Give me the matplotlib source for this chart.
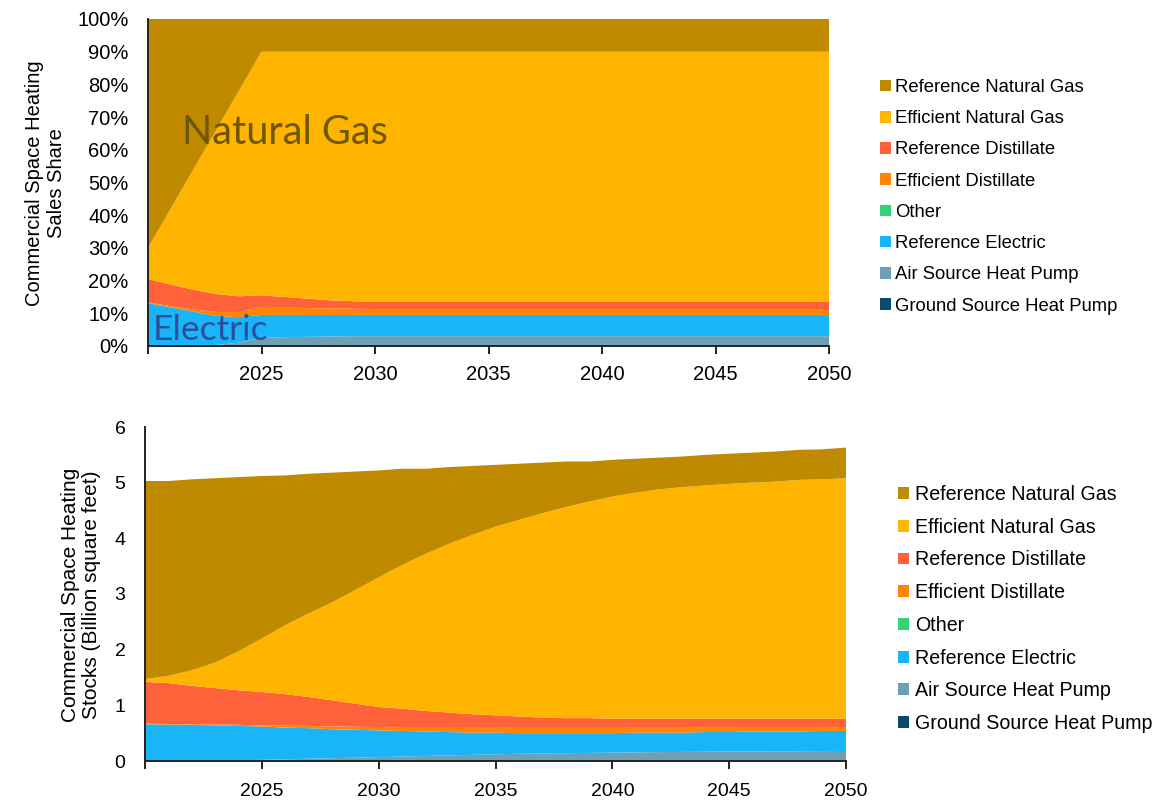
import matplotlib
matplotlib.use("Agg")
import matplotlib.pyplot as plt
from matplotlib.patches import Patch
from matplotlib.ticker import FixedLocator, PercentFormatter

plt.rcParams['font.family'] = ['Liberation Sans', 'DejaVu Sans']

# ---------------- data ----------------
series_names = ["Ground Source Heat Pump", "Air Source Heat Pump", "Reference Electric",
                "Other", "Efficient Distillate", "Reference Distillate",
                "Efficient Natural Gas", "Reference Natural Gas"]
colors = ["#0B4A6A", "#6E9FB4", "#1AB4F8", "#2ED475", "#FF8403", "#FF613B",
          "#FFB500", "#BF8A00"]

# Top chart: sales share (%), 2020-2030, flat afterwards to 2050
share_years = [2020, 2021, 2022, 2023, 2024, 2025, 2026, 2027, 2028, 2029, 2030,
               2035, 2040, 2045, 2050]
share_gshp = [0, 0, 0, 0, 0, 0, 0, 0, 0, 0, 0, 0, 0, 0, 0]
share_ashp = [0, 0, 0, 0.3, 1.0, 2.5, 2.7, 2.8, 2.9, 3.0, 3.0, 3.0, 3.0, 3.0, 3.0]
share_ref_elec = [13.1, 11.8, 10.5, 8.9, 7.8, 7.0, 6.8, 6.7, 6.6, 6.5, 6.5, 6.5, 6.5, 6.5, 6.5]
share_other = [0, 0, 0, 0, 0, 0, 0, 0, 0, 0, 0, 0, 0, 0, 0]
share_eff_dist = [0.2, 0.4, 0.7, 1.2, 1.6, 2.5, 2.3, 2.1, 2.0, 1.9, 1.8, 1.8, 1.8, 1.8, 1.8]
share_ref_dist = [7.2, 6.6, 6.0, 5.5, 4.8, 3.5, 3.2, 2.9, 2.5, 2.3, 2.2, 2.2, 2.2, 2.2, 2.2]
share_eff_ng = [9.5, 23.2, 36.8, 50.1, 62.8, 74.5, 75.0, 75.5, 76.0, 76.3, 76.5, 76.5, 76.5, 76.5, 76.5]
share_ref_ng = [70, 58, 46, 34, 22, 10, 10, 10, 10, 10, 10, 10, 10, 10, 10]

# Bottom chart: stocks (billion sq ft), 2020-2050
stock_years = list(range(2020, 2051))
stock_gshp = [0] * 31
stock_ashp = [0, 0, 0.005, 0.01, 0.015, 0.02, 0.03, 0.04, 0.05, 0.06, 0.07, 0.08, 0.09, 0.10,
              0.11, 0.12, 0.13, 0.135, 0.14, 0.145, 0.15, 0.155, 0.16, 0.163, 0.166, 0.17,
              0.172, 0.174, 0.176, 0.178, 0.18]
stock_ref_elec = [0.66, 0.655, 0.645, 0.63, 0.615, 0.60, 0.57, 0.55, 0.52, 0.50, 0.48, 0.46,
                  0.44, 0.42, 0.40, 0.39, 0.37, 0.365, 0.36, 0.355, 0.35, 0.355, 0.35, 0.347,
                  0.354, 0.35, 0.358, 0.356, 0.354, 0.362, 0.36]
stock_other = [0] * 31
stock_eff_dist = [0.01, 0.01, 0.01, 0.015, 0.02, 0.02, 0.035, 0.04, 0.05, 0.055, 0.06, 0.07,
                  0.08, 0.09, 0.10, 0.10, 0.11, 0.11, 0.11, 0.11, 0.11, 0.10, 0.10, 0.10, 0.09,
                  0.09, 0.08, 0.08, 0.08, 0.07, 0.07]
stock_ref_dist = [0.75, 0.735, 0.69, 0.655, 0.62, 0.60, 0.565, 0.52, 0.47, 0.415, 0.36, 0.33,
                  0.29, 0.26, 0.23, 0.21, 0.19, 0.17, 0.16, 0.16, 0.15, 0.15, 0.15, 0.15, 0.15,
                  0.15, 0.15, 0.15, 0.15, 0.15, 0.15]
stock_eff_ng = [0.05, 0.13, 0.28, 0.46, 0.70, 0.96, 1.24, 1.50, 1.76, 2.04, 2.33, 2.58, 2.82,
                3.03, 3.22, 3.39, 3.53, 3.67, 3.79, 3.89, 3.99, 4.06, 4.12, 4.16, 4.19, 4.22,
                4.24, 4.26, 4.29, 4.30, 4.32]
stock_ref_ng = [3.56, 3.50, 3.43, 3.31, 3.13, 2.92, 2.69, 2.51, 2.33, 2.13, 1.92, 1.73, 1.53,
                1.38, 1.24, 1.11, 1.01, 0.91, 0.82, 0.72, 0.66, 0.61, 0.57, 0.55, 0.55, 0.54,
                0.54, 0.54, 0.54, 0.54, 0.55]

tick_years = [2020, 2025, 2030, 2035, 2040, 2045, 2050]
tick_labels = ["", "2025", "2030", "2035", "2040", "2045", "2050"]

# ---------------- figure ----------------
fig = plt.figure(figsize=(11.7, 8.01), dpi=100)
W, H = 1170, 801

def axes_px(l, r, t, b):
    return fig.add_axes([l / W, 1 - b / H, (r - l) / W, (b - t) / H])

def style(ax):
    for s in ("top", "right"):
        ax.spines[s].set_visible(False)
    for s in ("left", "bottom"):
        ax.spines[s].set_linewidth(1.4)
        ax.spines[s].set_color("#222222")
    ax.tick_params(axis="y", length=0)
    ax.tick_params(axis="x", length=6, width=1.4, direction="out", color="#222222")
    ax.xaxis.set_major_locator(FixedLocator(tick_years))
    ax.set_xticklabels(tick_labels)

# top chart
ax1 = axes_px(148, 829, 19, 346)
top_data = [share_gshp, share_ashp, share_ref_elec, share_other, share_eff_dist,
            share_ref_dist, share_eff_ng, share_ref_ng]
ax1.stackplot(share_years, *[[v / 100 for v in s] for s in top_data], colors=colors,
              linewidth=0)
ax1.set_xlim(2020, 2050)
ax1.set_ylim(0, 1.0)
style(ax1)
ax1.set_yticks([i / 10 for i in range(11)])
ax1.yaxis.set_major_formatter(PercentFormatter(1.0, decimals=0))
ax1.tick_params(axis="y", labelsize=14.5, pad=14)
ax1.tick_params(axis="x", labelsize=14.5, pad=8)
ax1.text(0.05, 0.652, "Natural Gas", transform=ax1.transAxes, fontsize=28.5,
         family=["Lato", "DejaVu Sans"], color="#6F5700", va="center", ha="left")
ax1.text(0.007, 0.05, "Electric", transform=ax1.transAxes, fontsize=25.5,
         family=["Lato", "DejaVu Sans"], color="#2E4F9A", va="center", ha="left")

# bottom chart
ax2 = axes_px(145, 846, 427, 761)
bot_data = [stock_gshp, stock_ashp, stock_ref_elec, stock_other, stock_eff_dist,
            stock_ref_dist, stock_eff_ng, stock_ref_ng]
ax2.stackplot(stock_years, *bot_data, colors=colors, linewidth=0)
ax2.set_xlim(2020, 2050)
ax2.set_ylim(0, 6)
style(ax2)
ax2.set_yticks(range(7))
ax2.tick_params(axis="y", labelsize=14, pad=14)
ax2.tick_params(axis="x", labelsize=14, pad=10)

# y labels
fig.text(46 / W, 1 - 183 / H, "Commercial Space Heating\nSales Share", rotation=90,
         ha="center", va="center", multialignment="center", fontsize=14.5,
         linespacing=1.2)
fig.text(81 / W, 1 - 595 / H, "Commercial Space Heating\nStocks (Billion square feet)",
         rotation=90, ha="center", va="center", multialignment="center", fontsize=15,
         linespacing=1.1)

# legends (reverse order: top of stack first)
handles = [Patch(facecolor=c, edgecolor="none") for c in colors][::-1]
labels = series_names[::-1]
fig.legend(handles, labels, loc="upper left", bbox_to_anchor=(880 / W, 1 - 79 / H),
           frameon=False, fontsize=13.3, handlelength=0.6, handleheight=0.6,
           handletextpad=0.2, labelspacing=0.77, borderpad=0, borderaxespad=0)
fig.legend(handles, labels, loc="upper left", bbox_to_anchor=(898 / W, 1 - 485 / H),
           frameon=False, fontsize=14.1, handlelength=0.55, handleheight=0.55,
           handletextpad=0.3, labelspacing=0.70, borderpad=0, borderaxespad=0)

fig.savefig("out.png", dpi=100)
